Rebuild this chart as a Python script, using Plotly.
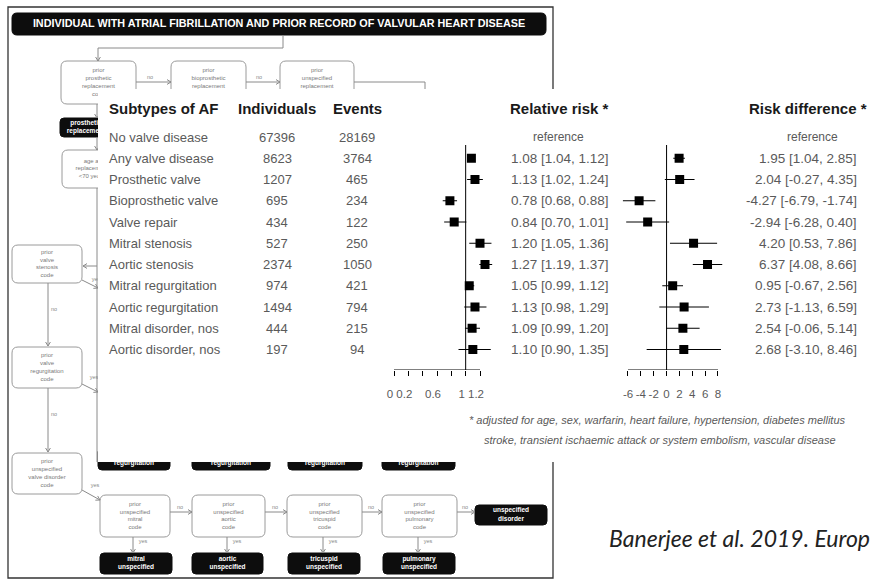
import plotly.graph_objects as go

W, H = 871, 580

# ---------------- forest plot data ----------------
subtypes = ["No valve disease", "Any valve disease", "Prosthetic valve", "Bioprosthetic valve",
            "Valve repair", "Mitral stenosis", "Aortic stenosis", "Mitral regurgitation",
            "Aortic regurgitation", "Mitral disorder, nos", "Aortic disorder, nos"]
individuals = [67396, 8623, 1207, 695, 434, 527, 2374, 974, 1494, 444, 197]
events = [28169, 3764, 465, 234, 122, 250, 1050, 421, 794, 215, 94]

rr = [None, 1.08, 1.13, 0.78, 0.84, 1.20, 1.27, 1.05, 1.13, 1.09, 1.10]
rr_lo = [None, 1.04, 1.02, 0.68, 0.70, 1.05, 1.19, 0.99, 0.98, 0.99, 0.90]
rr_hi = [None, 1.12, 1.24, 0.88, 1.01, 1.36, 1.37, 1.12, 1.29, 1.20, 1.35]

rd = [None, 1.95, 2.04, -4.27, -2.94, 4.20, 6.37, 0.95, 2.73, 2.54, 2.68]
rd_lo = [None, 1.04, -0.27, -6.79, -6.28, 0.53, 4.08, -0.67, -1.13, -0.06, -3.10]
rd_hi = [None, 2.85, 4.35, -1.74, 0.40, 7.86, 8.66, 2.56, 6.59, 5.14, 8.46]

rr_ticks = [0, 0.2, 0.4, 0.6, 0.8, 1, 1.2]
rr_ticktext = ["0", "0.2", "", "0.6", "", "1", "1.2"]
rd_ticks = [-6, -4, -2, 0, 2, 4, 6, 8]
rd_ticktext = ["-6", "-4", "-2", "0", "2", "4", "6", "8"]

footnote = ["* adjusted for age, sex, warfarin, heart failure, hypertension, diabetes mellitus",
            "stroke, transient ischaemic attack or system embolism, vascular disease"]
citation = "Banerjee et al. 2019. Europ"

# ---------------- layout constants (pixels) ----------------
ROW0_PX, ROW_STEP = 137.0, 21.25
AXIS_PX, TOP_PX = 370.0, 130.0
row_top = (TOP_PX - ROW0_PX) / ROW_STEP
row_bot = (AXIS_PX - ROW0_PX) / ROW_STEP

RR_SCALE = (480 - 394) / 1.2          # px per unit
RR_RANGE = [-0.1, 1.45]
RD_SCALE = (718 - 628) / 14.0
RD_RANGE = [-7.5, 9.5]


def xdom(zero_px, scale, rng):
    return [(zero_px + rng[0] * scale) / W, (zero_px + rng[1] * scale) / W]


def py(p):
    return 1 - p / H


GREY = "#5a5a5a"
DARK = "#1a1a1a"
LINE = "#8a8a8a"
FONT = "Liberation Sans, Arial, sans-serif"

# ---------------- background flow diagram ----------------
outline_boxes = [
    (61, 61, 136, 104, "prior<br>prosthetic<br>replacement<br>code"),
    (171, 61, 246, 104, "prior<br>bioprosthetic<br>replacement<br>code"),
    (280, 61, 354, 104, "prior<br>unspecified<br>replacement<br>code"),
    (62, 150, 122, 188, "age at<br>replacement<br>&lt;70 years"),
    (12, 245, 82, 283, "prior<br>valve<br>stenosis<br>code"),
    (12, 347, 82, 388, "prior<br>valve<br>regurgitation<br>code"),
    (12, 453, 82, 494, "prior<br>unspecified<br>valve disorder<br>code"),
    (100, 495, 170, 537, "prior<br>unspecified<br>mitral<br>code"),
    (192, 495, 265, 537, "prior<br>unspecified<br>aortic<br>code"),
    (287, 495, 362, 537, "prior<br>unspecified<br>tricuspid<br>code"),
    (382, 495, 457, 537, "prior<br>unspecified<br>pulmonary<br>code"),
]
dark_boxes = [
    (60, 118, 112, 137, "prosthetic<br>replacement"),
    (98, 448, 170, 470, "mitral<br>regurgitation"),
    (192, 448, 270, 470, "aortic<br>regurgitation"),
    (288, 448, 362, 470, "tricuspid<br>regurgitation"),
    (382, 448, 455, 470, "pulmonary<br>regurgitation"),
    (475, 505, 547, 525, "unspecified<br>disorder"),
    (100, 553, 172, 574, "mitral<br>unspecified"),
    (192, 553, 263, 574, "aortic<br>unspecified"),
    (288, 553, 360, 574, "tricuspid<br>unspecified"),
    (383, 553, 455, 574, "pulmonary<br>unspecified"),
]
# connectors: polyline points, arrow at end?, label (text, x, y)
connectors = [
    ([(283, 35), (283, 48), (98, 48), (98, 61)], True, None),
    ([(136, 82), (171, 82)], True, ("no", 150, 78)),
    ([(246, 82), (280, 82)], True, ("no", 259, 78)),
    ([(354, 82), (425, 82), (425, 100)], False, None),
    ([(97, 104), (97, 118)], True, None),
    ([(97, 137), (97, 150)], True, None),
    ([(97, 188), (97, 462)], False, None),
    ([(97, 266), (83, 266)], True, None),
    ([(82, 280), (98, 288)], True, ("yes", 96, 280)),
    ([(48, 283), (48, 346)], True, ("no", 54, 310)),
    ([(82, 384), (98, 392)], True, ("yes", 94, 378)),
    ([(48, 388), (48, 452)], True, ("no", 54, 415)),
    ([(82, 490), (100, 500)], True, ("yes", 95, 486)),
    ([(170, 512), (192, 512)], True, ("no", 180, 508)),
    ([(265, 512), (287, 512)], True, ("no", 275, 508)),
    ([(362, 512), (382, 512)], True, ("no", 371, 508)),
    ([(457, 512), (475, 512)], True, ("no", 465, 508)),
    ([(133, 537), (133, 553)], True, ("yes", 143, 542)),
    ([(227, 537), (227, 553)], True, ("yes", 237, 542)),
    ([(323, 537), (323, 553)], True, ("yes", 333, 542)),
    ([(418, 537), (418, 553)], True, ("yes", 428, 542)),
]


def rrect(x0, y0, x1, y1, r=5):
    return (f"M{x0 + r},{y0} L{x1 - r},{y0} Q{x1},{y0} {x1},{y0 + r} "
            f"L{x1},{y1 - r} Q{x1},{y1} {x1 - r},{y1} L{x0 + r},{y1} "
            f"Q{x0},{y1} {x0},{y1 - r} L{x0},{y0 + r} Q{x0},{y0} {x0 + r},{y0} Z")


shapes = []
# outer frame of the diagram
shapes.append(dict(type="rect", xref="x", yref="y", x0=8, y0=7, x1=553, y1=578,
                   line=dict(color="#333", width=1.3), layer="below"))
# title banner
shapes.append(dict(type="path", xref="x", yref="y", path=rrect(12, 13, 546, 35, 5),
                   fillcolor="#0d0d0d", line=dict(color="#0d0d0d", width=1), layer="below"))
for x0, y0, x1, y1, _ in outline_boxes:
    shapes.append(dict(type="path", xref="x", yref="y", path=rrect(x0, y0, x1, y1, 6),
                       fillcolor="white", line=dict(color="#9a9a9a", width=1), layer="below"))
for x0, y0, x1, y1, _ in dark_boxes:
    shapes.append(dict(type="path", xref="x", yref="y", path=rrect(x0, y0, x1, y1, 4),
                       fillcolor="#0d0d0d", line=dict(color="#0d0d0d", width=1), layer="below"))
lab_x, lab_y, lab_t = [], [], []
for pts, arrow, lab in connectors:
    d = "M" + " L".join(f"{x},{y}" for x, y in pts)
    shapes.append(dict(type="path", xref="x", yref="y", path=d,
                       line=dict(color=LINE, width=1), layer="below"))
    if arrow:
        (ax, ay), (bx, by) = pts[-2], pts[-1]
        dx, dy = bx - ax, by - ay
        n = (dx * dx + dy * dy) ** 0.5
        ux, uy = dx / n, dy / n
        h = 4
        p1 = (bx - h * ux - h * 0.6 * uy, by - h * uy + h * 0.6 * ux)
        p2 = (bx - h * ux + h * 0.6 * uy, by - h * uy - h * 0.6 * ux)
        shapes.append(dict(type="path", xref="x", yref="y",
                           path=f"M{p1[0]},{p1[1]} L{bx},{by} L{p2[0]},{p2[1]}",
                           line=dict(color=LINE, width=1), layer="below"))
    if lab:
        lab_t.append(lab[0]); lab_x.append(lab[1]); lab_y.append(lab[2])

traces = []
traces.append(go.Scatter(
    x=[(b[0] + b[2]) / 2 for b in outline_boxes], y=[(b[1] + b[3]) / 2 for b in outline_boxes],
    text=[b[4] for b in outline_boxes], mode="text", xaxis="x", yaxis="y",
    textfont=dict(size=6, color="#7a7a7a", family=FONT), hoverinfo="skip"))
traces.append(go.Scatter(
    x=[(b[0] + b[2]) / 2 for b in dark_boxes], y=[(b[1] + b[3]) / 2 for b in dark_boxes],
    text=[f"<b>{b[4]}</b>" for b in dark_boxes], mode="text", xaxis="x", yaxis="y",
    textfont=dict(size=6.5, color="white", family=FONT), hoverinfo="skip"))
traces.append(go.Scatter(
    x=[279], y=[24], text=["<b>INDIVIDUAL WITH ATRIAL FIBRILLATION AND PRIOR RECORD OF VALVULAR HEART DISEASE</b>"],
    mode="text", xaxis="x", yaxis="y", textfont=dict(size=10.8, color="white", family=FONT),
    hoverinfo="skip"))
traces.append(go.Scatter(
    x=lab_x, y=lab_y, text=lab_t, mode="text", xaxis="x", yaxis="y",
    textfont=dict(size=5.5, color="#888", family=FONT), hoverinfo="skip"))
# white panel holding the forest plot, laid over the diagram
traces.append(go.Scatter(
    x=[98, W, W, 98, 98], y=[89, 89, 462, 462, 89], mode="lines", fill="toself",
    fillcolor="white", line=dict(width=0, color="white"), xaxis="x", yaxis="y", hoverinfo="skip"))

# ---------------- forest plot marks ----------------
idx = list(range(1, len(subtypes)))
traces.append(go.Scatter(
    x=[rr[i] for i in idx], y=idx, mode="markers", xaxis="x2", yaxis="y2",
    marker=dict(symbol="square", size=9, color="black"),
    error_x=dict(type="data", symmetric=False,
                 array=[rr_hi[i] - rr[i] for i in idx],
                 arrayminus=[rr[i] - rr_lo[i] for i in idx],
                 thickness=1, width=0, color="black")))
traces.append(go.Scatter(
    x=[rd[i] for i in idx], y=idx, mode="markers", xaxis="x3", yaxis="y3",
    marker=dict(symbol="square", size=9, color="black"),
    error_x=dict(type="data", symmetric=False,
                 array=[rd_hi[i] - rd[i] for i in idx],
                 arrayminus=[rd[i] - rd_lo[i] for i in idx],
                 thickness=1, width=0, color="black")))

fig = go.Figure(traces)

ref_top = (145 - ROW0_PX) / ROW_STEP
for xr, yr, xv, lo, hi in (("x2", "y2", 1, 0, 1.2), ("x3", "y3", 0, -6, 8)):
    shapes.append(dict(type="line", xref=xr, yref=yr, x0=xv, x1=xv, y0=ref_top, y1=row_bot,
                       line=dict(color="black", width=1), layer="above"))
    shapes.append(dict(type="line", xref=xr, yref=yr, x0=lo, x1=hi, y0=row_bot, y1=row_bot,
                       line=dict(color="black", width=1), layer="above"))

ann = []


def add(text, x, y, yref="paper", size=13, color=GREY, anchor="center", bold=False, italic=False,
        family=FONT):
    t = text
    if bold:
        t = f"<b>{t}</b>"
    if italic:
        t = f"<i>{t}</i>"
    ann.append(dict(text=t, x=x / W, xref="paper", y=y, yref=yref, showarrow=False,
                    xanchor=anchor, yanchor="middle", font=dict(size=size, color=color, family=family)))


# column headers
add("Subtypes of AF", 107, py(108), size=15, color=DARK, anchor="left", bold=True)
add("Individuals", 277, py(108), size=15, color=DARK, bold=True)
add("Events", 357, py(108), size=15, color=DARK, bold=True)
add("Relative risk *", 508, py(108), size=15, color=DARK, anchor="left", bold=True)
add("Risk difference *", 747, py(108), size=15, color=DARK, anchor="left", bold=True)

for i, name in enumerate(subtypes):
    add(name, 107, i, yref="y2", anchor="left")
    add(str(individuals[i]), 277, i, yref="y2")
    add(str(events[i]), 357, i, yref="y2")
    if rr[i] is None:
        add("reference", 558, i, yref="y2", size=12)
        add("reference", 812, i, yref="y2", size=12)
    else:
        add(f"{rr[i]:.2f} [{rr_lo[i]:.2f}, {rr_hi[i]:.2f}]", 611, i, yref="y2", anchor="right", size=13.5)
        add(f"{rd[i]:.2f} [{rd_lo[i]:.2f}, {rd_hi[i]:.2f}]", 859, i, yref="y2", anchor="right", size=13.5)

add(footnote[0], 657, py(420), size=11, italic=True)
add(footnote[1], 660, py(440), size=11, italic=True)
add(citation, 607, py(538), size=23, color="#222", anchor="left", italic=True, family="Lato, sans-serif")

ydom = [py(AXIS_PX), py(TOP_PX)]
axis_common = dict(showgrid=False, zeroline=False, showline=False, ticks="outside", ticklen=5,
                   tickwidth=1, tickcolor="black", tickfont=dict(size=11.5, color=GREY, family=FONT),
                   fixedrange=True, ticklabelstandoff=8)
fig.update_layout(
    width=W, height=H, margin=dict(l=0, r=0, t=0, b=0),
    paper_bgcolor="white", plot_bgcolor="rgba(0,0,0,0)", showlegend=False,
    xaxis=dict(domain=[0, 1], range=[0, W], visible=False, fixedrange=True),
    yaxis=dict(domain=[0, 1], range=[H, 0], visible=False, fixedrange=True),
    xaxis2=dict(domain=xdom(394, RR_SCALE, RR_RANGE), range=RR_RANGE, anchor="y2",
                tickvals=rr_ticks, ticktext=rr_ticktext, ticklabelshift=-4, **axis_common),
    yaxis2=dict(domain=ydom, range=[row_bot, row_top], visible=False, anchor="x2", fixedrange=True),
    xaxis3=dict(domain=xdom(628 + 6 * RD_SCALE, RD_SCALE, RD_RANGE), range=RD_RANGE, anchor="y3",
                tickvals=rd_ticks, ticktext=rd_ticktext, **axis_common),
    yaxis3=dict(domain=ydom, range=[row_bot, row_top], visible=False, anchor="x3", fixedrange=True),
    shapes=shapes, annotations=ann,
)

fig.write_html("out.html")
